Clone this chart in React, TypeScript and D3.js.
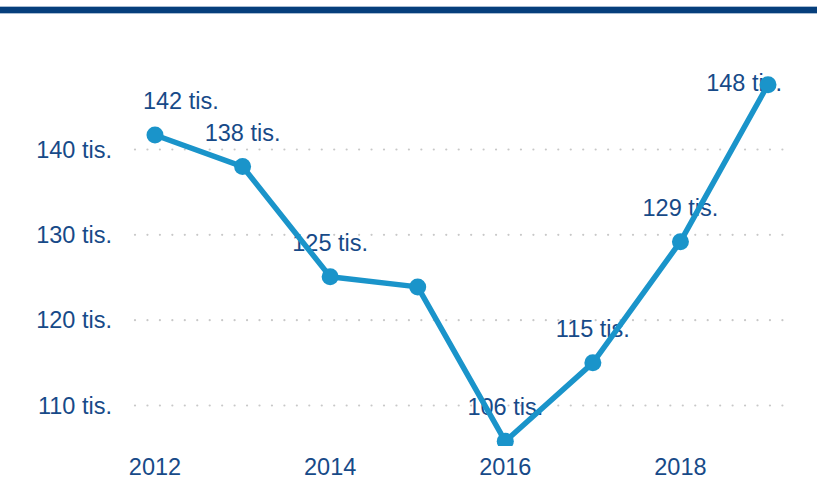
import React from "react";
import * as d3 from "d3";

const years = [2012, 2013, 2014, 2015, 2016, 2017, 2018, 2019];
const values = [141.7, 138.0, 125.1, 123.9, 105.8, 115.0, 129.2, 147.6];
const pointLabels = ["142 tis.", "138 tis.", "125 tis.", "", "106 tis.", "115 tis.", "129 tis.", "148 tis."];
const yTicks = [110, 120, 130, 140];
const yTickLabels = ["110 tis.", "120 tis.", "130 tis.", "140 tis."];
const xTicks = [2012, 2014, 2016, 2018];

const W = 817;
const H = 481;
const FONT = "'Liberation Sans', Arial, sans-serif";
const TEXT = "#174a88";
const LINE = "#1a94ca";

function textWidth(s: string, size: number) {
  const w: Record<string, number> = { " ": 0.278, t: 0.278, i: 0.222, s: 0.5, ".": 0.278 };
  let t = 0;
  for (const c of s) t += w[c] ?? 0.556;
  return t * size;
}

export default function App() {
  const x = d3.scaleLinear().domain([2012, 2019]).range([155, 768]);
  const y = d3.scaleLinear().domain([110, 140]).range([405.5, 149.5]);
  const line = d3
    .line<number>()
    .x((_, i) => x(years[i]))
    .y((d) => y(d));
  const fs = 23.5;
  const gridDots = d3.range(135, 783, 12.45);

  return (
    <svg
      width={W}
      height={H}
      style={{ position: "absolute", left: 0, top: 0, background: "#fff" }}
      fontFamily={FONT}
    >
      <defs>
        <clipPath id="plotclip">
          <rect x={0} y={20} width={W} height={426} />
        </clipPath>
      </defs>
      <rect x={0} y={6} width={W} height={8} fill="#a9bdd3" />
      <rect x={0} y={7} width={W} height={6} fill="#063f7c" />

      {yTicks.map((t, i) => (
        <g key={t}>
          {gridDots.map((gx) => (
            <circle key={gx} cx={gx} cy={y(t)} r={1.1} fill="#c8c8c8" />
          ))}
          <text x={112} y={y(t) + 8} textAnchor="end" fontSize={fs} fill={TEXT}>
            {yTickLabels[i]}
          </text>
        </g>
      ))}

      {xTicks.map((t) => (
        <text key={t} x={x(t)} y={475} textAnchor="middle" fontSize={fs} fill={TEXT}>
          {t}
        </text>
      ))}

      {values.map((v, i) => {
        const lbl = pointLabels[i];
        if (!lbl) return null;
        const tw = textWidth(lbl, fs);
        let cx = x(years[i]);
        cx = Math.max(143 + tw / 2, Math.min(782 - tw / 2, cx));
        const by = Math.max(91, y(v) - 26);
        return (
          <text key={i} x={cx} y={by} textAnchor="middle" fontSize={fs} fill={TEXT}>
            {lbl}
          </text>
        );
      })}

      <g clipPath="url(#plotclip)">
        <path d={line(values) || ""} fill="none" stroke={LINE} strokeWidth={5.5} strokeLinejoin="round" />
        {values.map((v, i) => (
          <circle key={i} cx={x(years[i])} cy={y(v)} r={8.5} fill={LINE} />
        ))}
      </g>
    </svg>
  );
}
